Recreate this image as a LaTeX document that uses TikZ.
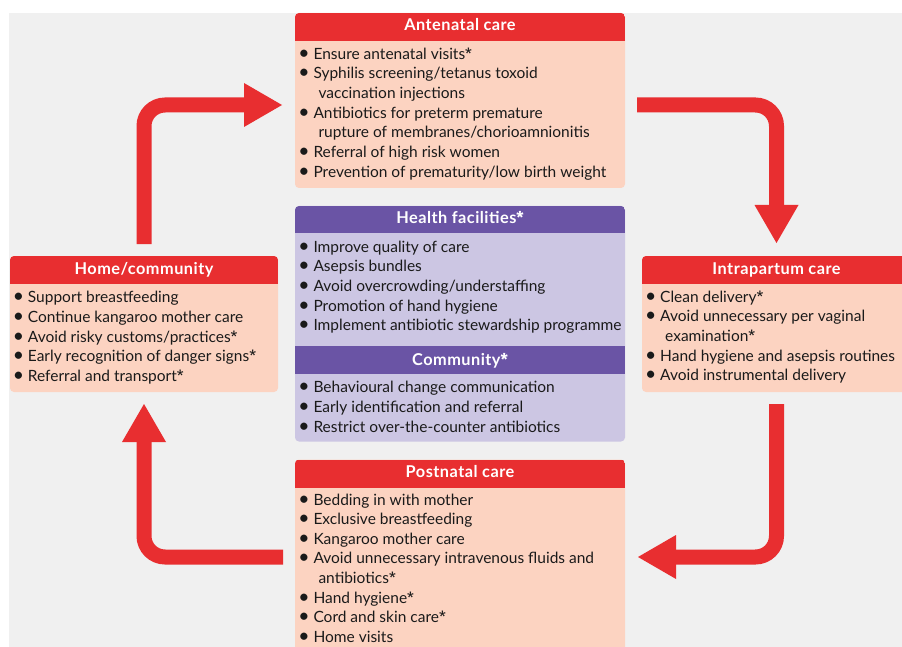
\documentclass[tikz,border=0pt]{standalone}
\usepackage{fontspec}
\setmainfont{Lato}
\newfontfamily\firaf{Fira Sans}
\usetikzlibrary{arrows.meta}
\definecolor{bmjred}{RGB}{232,46,48}
\definecolor{peach}{RGB}{252,211,193}
\definecolor{purp}{RGB}{106,84,165}
\definecolor{lav}{RGB}{204,198,227}
\definecolor{bgc}{RGB}{240,240,240}
\definecolor{ink}{RGB}{26,26,26}
\newcommand{\bl}{\llap{\scalebox{1.25}{•}\kern 3.8pt}}
\newcommand{\stx}{{\firaf *}}
\newcommand{\cont}{\kern 5pt}
\newcommand{\band}[4]{\begin{scope}\clip[rounded corners=4pt] (#1.north west) rectangle (#1.south east);\fill[#4] (#1.west |- 0,#2) rectangle (#1.east |- 0,#3);\end{scope}}
\newcommand{\itemlines}[4]{\foreach \t [count=\i from 0] in {#4} \node[itm] (#1-\i) at (#2,{#3+19.65*\i}) {\t};}
\tikzset{
 panel/.style={rounded corners=4pt, inner sep=0pt, outer sep=0pt, anchor=north west, draw=none},
 hdrtext/.style={text=white, font=\fontsize{16.3}{18}\selectfont\bfseries\addfontfeatures{LetterSpace=3}, inner sep=0pt, anchor=base},
 itm/.style={text=ink, font=\fontsize{15.5}{15}\selectfont, inner sep=0pt, anchor=base west},
 flow/.style={draw=bmjred, line width=15pt, rounded corners=21pt, -{Triangle[length=38pt,width=44pt,line width=0pt]}},
}
\begin{document}
\begin{tikzpicture}[x=1pt,y=-1pt]
\useasboundingbox (0,0) rectangle (902,647);
\clip (0,0) rectangle (902,647);
\fill[white] (0,0) rectangle (902,647);
\fill[bgc] (9,13) rectangle (902,647);

% panels
\node[panel, fill=peach, minimum width=330pt, minimum height=175pt] (ante) at (295,13) {};
\band{ante}{13}{41}{bmjred}
\node[panel, fill=lav, minimum width=330pt, minimum height=235.5pt] (health) at (295,206) {};
\band{health}{206}{233}{purp}
\band{health}{346}{374}{purp}
\node[panel, fill=peach, minimum width=268pt, minimum height=136pt] (home) at (10,256) {};
\band{home}{256}{284}{bmjred}
\node[panel, fill=peach, minimum width=269pt, minimum height=136pt] (intra) at (642,256) {};
\band{intra}{256}{284}{bmjred}
\node[panel, fill=peach, minimum width=330pt, minimum height=210pt] (post) at (295,459.5) {};
\band{post}{459.5}{487.5}{bmjred}

% headers
\node[hdrtext] (anteh) at (460,30.7) {Antenatal care};
\node[hdrtext] (healthh) at (460,224) {Health facilities\stx};
\node[hdrtext] (commh) at (460,365) {Community\stx};
\node[hdrtext] (homeh) at (144,274.3) {Home/community};
\node[hdrtext] (intrah) at (776.5,274.3) {Intrapartum care};
\node[hdrtext] (posth) at (460,477.7) {Postnatal care};

% items
\itemlines{ante}{313.3}{59.3}{{\bl Ensure antenatal visits\stx},{\bl Syphilis screening/tetanus toxoid},{\cont vaccination injections},{\bl Antibiotics for preterm premature},{\cont rupture of membranes/chorioamnionitis},{\bl Referral of high risk women},{\bl Prevention of prematurity/low birth weight}}
\itemlines{hf}{313.3}{252.3}{{\bl Improve quality of care},{\bl Asepsis bundles},{\bl Avoid overcrowding/understaffing},{\bl Promotion of hand hygiene},{\bl Implement antibiotic stewardship programme}}
\itemlines{cm}{313.3}{392.7}{{\bl Behavioural change communication},{\bl Early identification and referral},{\bl Restrict over-the-counter antibiotics}}
\itemlines{hm}{27.7}{302.7}{{\bl Support breastfeeding},{\bl Continue kangaroo mother care},{\bl Avoid risky customs/practices\stx},{\bl Early recognition of danger signs\stx},{\bl Referral and transport\stx}}
\itemlines{ip}{660}{302.3}{{\bl Clean delivery\stx},{\bl Avoid unnecessary per vaginal},{\cont examination\stx},{\bl Hand hygiene and asepsis routines},{\bl Avoid instrumental delivery}}
\itemlines{pn}{313.3}{505}{{\bl Bedding in with mother},{\bl Exclusive breastfeeding},{\bl Kangaroo mother care},{\bl Avoid unnecessary intravenous fluids and},{\cont antibiotics\stx},{\bl Hand hygiene\stx},{\bl Cord and skin care\stx},{\bl Home visits}}

% flow arrows
\draw[flow] ([yshift=12pt]home.north) |- ([xshift=-13pt]ante.west |- 0,105);
\draw[flow] ([xshift=12pt]ante.east |- 0,105) -| ([yshift=13pt]intra.north);
\draw[flow] ([yshift=-12pt]intra.south) |- ([xshift=13pt]post.east |- 0,557);
\draw[flow] ([xshift=-12pt]post.west |- 0,557) -| ([yshift=-12pt]home.south);
\end{tikzpicture}
\end{document}
